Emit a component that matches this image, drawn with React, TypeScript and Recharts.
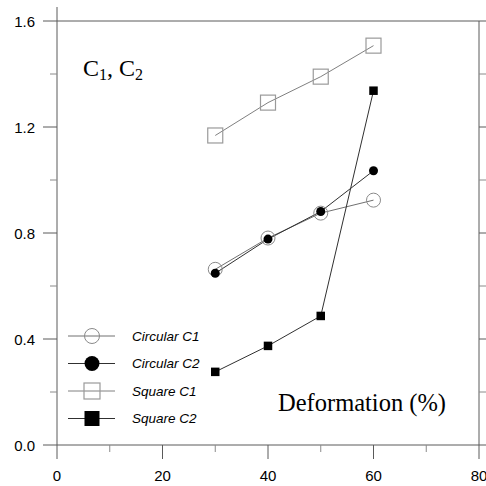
import React from 'react';
import { LineChart, Line, XAxis, YAxis, Legend } from 'recharts';

// values
const deformation = [30, 40, 50, 60];
const circularC1 = [0.663, 0.781, 0.875, 0.924];
const circularC2 = [0.648, 0.777, 0.881, 1.035];
const squareC1 = [1.168, 1.292, 1.39, 1.507];
const squareC2 = [0.276, 0.374, 0.487, 1.337];

const xTicks = [0, 10, 20, 30, 40, 50, 60, 70, 80];
const xLabelTicks = [0, 20, 40, 60, 80];
const yTicks = [0, 0.2, 0.4, 0.6, 0.8, 1.0, 1.2, 1.4, 1.6];
const yLabelTicks = [0, 0.4, 0.8, 1.2, 1.6];

const data = deformation.map((x, i) => ({
  x,
  cc1: circularC1[i],
  cc2: circularC2[i],
  sc1: squareC1[i],
  sc2: squareC2[i],
}));

const series = [
  { key: 'cc1', name: 'Circular C1', marker: 'openCircle', line: '#707070' },
  { key: 'cc2', name: 'Circular C2', marker: 'filledCircle', line: '#303030' },
  { key: 'sc1', name: 'Square C1', marker: 'openSquare', line: '#808080' },
  { key: 'sc2', name: 'Square C2', marker: 'filledSquare', line: '#303030' },
];

const AXIS = '#5a5a5a';
const MINOR = '#8a8a8a';
const tickFont = '"Liberation Sans", Arial, sans-serif';
const serif = '"Liberation Serif", "Times New Roman", serif';

const isMajor = (v: number, majors: number[]) => majors.some((m) => Math.abs(m - v) < 1e-6);

const drawMarker = (kind: string, cx: number, cy: number, big: boolean, key?: any) => {
  if (kind === 'openCircle') {
    const r = big ? 7.5 : 7;
    return <circle key={key} cx={cx} cy={cy} r={r} fill="none" stroke="#8a8a8a" strokeWidth={1} />;
  }
  if (kind === 'filledCircle') {
    const r = big ? 7.5 : 4.5;
    return <circle key={key} cx={cx} cy={cy} r={r} fill="#000" stroke="none" />;
  }
  if (kind === 'openSquare') {
    const s = big ? 16 : 15;
    return <rect key={key} x={cx - s / 2} y={cy - s / 2} width={s} height={s} fill="none" stroke="#9a9a9a" strokeWidth={1.2} />;
  }
  const s = big ? 15 : 8.5;
  return <rect key={key} x={cx - s / 2} y={cy - s / 2} width={s} height={s} fill="#000" stroke="none" />;
};

const BottomTick = (props: any) => {
  const { x, y, payload } = props;
  const major = isMajor(payload.value, xLabelTicks);
  return (
    <g>
      <line x1={x} y1={y} x2={x} y2={y + (major ? 14 : 7)} stroke={major ? AXIS : MINOR} />
      {major && (
        <text x={x} y={y + 36} textAnchor="middle" fontSize={15} fontFamily={tickFont} fill="#000">
          {payload.value}
        </text>
      )}
    </g>
  );
};

const TopTick = (props: any) => {
  const { x, y, payload } = props;
  const major = isMajor(payload.value, xLabelTicks);
  return <line x1={x} y1={y} x2={x} y2={y - (major ? 14 : 7)} stroke={major ? AXIS : MINOR} />;
};

const LeftTick = (props: any) => {
  const { x, y, payload } = props;
  const major = isMajor(payload.value, yLabelTicks);
  return (
    <g>
      <line x1={x} y1={y} x2={x - (major ? 14 : 7)} y2={y} stroke={major ? AXIS : MINOR} />
      {major && (
        <text x={x - 22} y={y} dy="0.38em" textAnchor="end" fontSize={15} fontFamily={tickFont} fill="#000">
          {payload.value.toFixed(1)}
        </text>
      )}
    </g>
  );
};

const RightTick = (props: any) => {
  const { x, y, payload } = props;
  const major = isMajor(payload.value, yLabelTicks);
  return <line x1={x} y1={y} x2={x + (major ? 14 : 7)} y2={y} stroke={major ? AXIS : MINOR} />;
};

const renderLegend = () => (
  <svg width={170} height={120}>
    {series.map((s, i) => {
      const cy = 14 + i * 27.5;
      return (
        <g key={s.key}>
          <line x1={8} y1={cy} x2={55} y2={cy} stroke={s.line} strokeWidth={1} />
          {drawMarker(s.marker, 32, cy, true)}
          <text x={72} y={cy} dy="0.36em" fontSize={13.5} fontStyle="italic" fontFamily={tickFont} fill="#000">
            {s.name}
          </text>
        </g>
      );
    })}
  </svg>
);

const axisProps = {
  type: 'number' as const,
  tickLine: false,
  tickSize: 0,
  tickMargin: 0,
  allowDataOverflow: true,
  stroke: AXIS,
  axisLine: { stroke: AXIS },
};

export default function App() {
  return (
    <div style={{ position: 'fixed', left: 0, top: 0, width: 486, height: 486, background: '#fff' }}>
      <LineChart width={486} height={486} data={data} margin={{ top: 20, right: 6, bottom: 40, left: 56 }}>
        <XAxis {...axisProps} dataKey="x" domain={[0, 80]} ticks={xTicks} interval={0} height={1} tick={<BottomTick />} />
        <XAxis {...axisProps} xAxisId="top" orientation="top" domain={[0, 80]} ticks={xTicks} interval={0} height={1} tick={<TopTick />} />
        <YAxis {...axisProps} domain={[0, 1.6]} ticks={yTicks} interval={0} width={1} tick={<LeftTick />} />
        <YAxis {...axisProps} yAxisId="right" orientation="right" domain={[0, 1.6]} ticks={yTicks} interval={0} width={1} tick={<RightTick />} />
        {series.map((s) => (
          <Line
            key={s.key}
            dataKey={s.key}
            name={s.name}
            type="linear"
            stroke={s.line}
            strokeWidth={1}
            isAnimationActive={false}
            dot={(p: any) => drawMarker(s.marker, p.cx, p.cy, false, `${s.key}-${p.index}`)}
            activeDot={false}
          />
        ))}
        <Legend
          layout="vertical"
          align="center"
          verticalAlign="middle"
          content={renderLegend}
          wrapperStyle={{ left: 60, top: 322, width: 170, height: 120 }}
        />
      </LineChart>
      <svg width={486} height={486} style={{ position: 'absolute', left: 0, top: 0, pointerEvents: 'none' }}>
        <text x={83} y={76} fontFamily={serif} fontSize={24} fill="#000">
          C<tspan fontSize={16} dy={4}>1</tspan>
          <tspan dy={-4}>, C</tspan>
          <tspan fontSize={16} dy={4}>2</tspan>
        </text>
        <text x={278} y={411} fontFamily={serif} fontSize={24.5} fill="#000">
          Deformation (%)
        </text>
      </svg>
    </div>
  );
}
